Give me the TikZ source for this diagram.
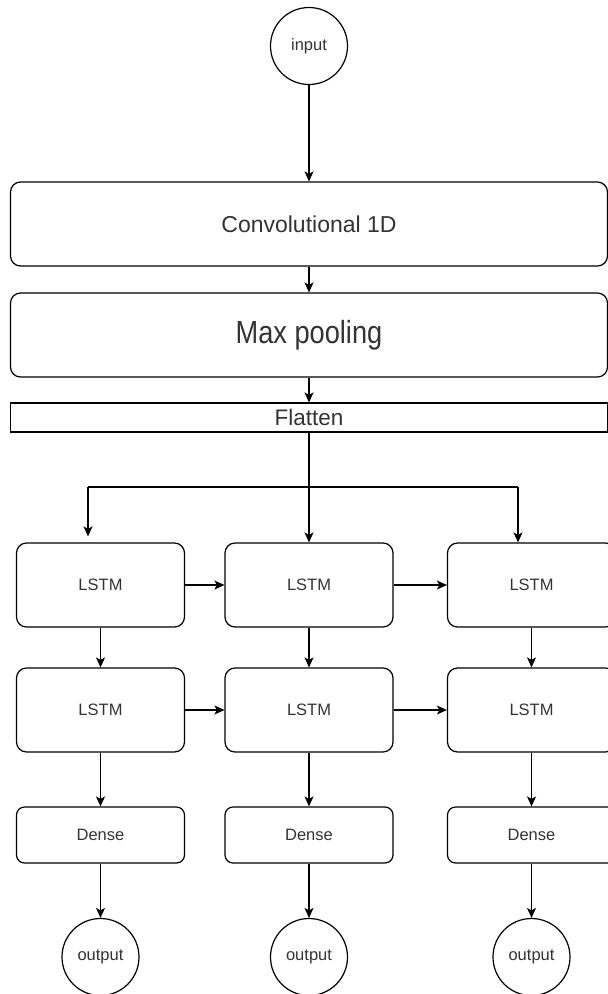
\documentclass[tikz,border=0pt]{standalone}
\usepackage{fontspec}
\setmainfont{Liberation Sans}
\usetikzlibrary{positioning,arrows.meta}
\definecolor{ink}{HTML}{333333}

\begin{document}
\begin{tikzpicture}[x=1pt,y=-1pt,on grid,line width=1.2pt,
    >={Stealth[length=10pt,width=9pt,inset=2.5pt]},
    every node/.style={text=ink,font=\fontsize{16.5}{18}\selectfont},
    io/.style={draw,circle,minimum size=77pt,inner sep=0pt},
    layer/.style={draw,rounded corners=10pt,minimum width=597pt,minimum height=84pt},
    flatbox/.style={draw,minimum width=597pt,minimum height=29pt,inner sep=0pt},
    cell/.style={draw,rounded corners=10pt,minimum width=168pt,minimum height=84pt},
    dense/.style={draw,rounded corners=8pt,minimum width=168pt,minimum height=56pt}]
      \useasboundingbox (0,0) rectangle (608,994);

      \node[io]              (in) at (309,46)           {input};
      \node[layer,font=\fontsize{23}{26}\selectfont]
                             (conv) [below=178pt of in] {Convolutional 1D};
      \node[layer,font=\fontsize{32}{36}\selectfont]
                             (pool) [below=111pt of conv] {\scalebox{0.85}[1]{Max pooling}};
      \node[flatbox,font=\fontsize{22.5}{24}\selectfont]
                             (flat) [below=82.5pt of pool] {Flatten};

      % first LSTM layer
      \node[cell]            (l12) [below=167.5pt of flat] {LSTM};
      \node[cell]            (l11) [left=208.5pt of l12]   {LSTM};
      \node[cell]            (l13) [right=222.5pt of l12]  {LSTM};
      % second LSTM layer
      \node[cell]            (l21) [below=125pt of l11] {LSTM};
      \node[cell]            (l22) [below=125pt of l12] {LSTM};
      \node[cell]            (l23) [below=125pt of l13] {LSTM};

      \node[dense]           (d1) [below=125pt of l21] {Dense};
      \node[dense]           (d2) [below=125pt of l22] {Dense};
      \node[dense]           (d3) [below=125pt of l23] {Dense};

      \node[io]              (o1) [below=122pt of d1] {output};
      \node[io]              (o2) [below=122pt of d2] {output};
      \node[io]              (o3) [below=122pt of d3] {output};

      \coordinate (fl) at (88,487);
      \coordinate (fr) at (518,487);
      \draw (fl) -- (fr);

      \path[->] (in) edge (in |- conv.north)
                (conv.south -| in) edge (pool.north -| in)
                (pool.south -| in) edge (flat.north -| in)
                (flat.south -| l12) edge (l12)
                (fl) edge[shorten >=6pt] (fl |- l11.north)
                (fr) edge (fr |- l13.north)
                (l11) edge (l12)
                (l12) edge (l13)
                (l21) edge (l22)
                (l22) edge (l23)
                (l11) edge (l21)
                (l12) edge (l22)
                (l13) edge (l23)
                (l21) edge (d1)
                (l22) edge (d2)
                (l23) edge (d3)
                (d1)  edge (o1)
                (d2)  edge (o2)
                (d3)  edge (o3);
    \end{tikzpicture}
\end{document}
